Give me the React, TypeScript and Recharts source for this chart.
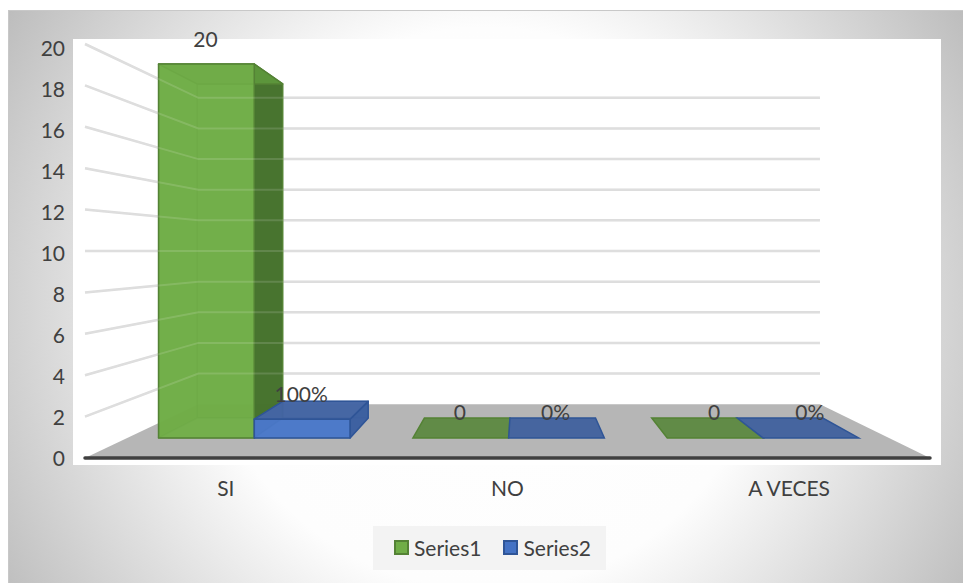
import { BarChart, Bar, XAxis, YAxis, CartesianGrid, Legend, LabelList, ReferenceLine } from "recharts";

const categories = ["SI", "NO", "A VECES"];
const series1 = [20, 0, 0];
const series2 = [1, 0, 0]; // shown as percentages
const yTicks = [0, 2, 4, 6, 8, 10, 12, 14, 16, 18, 20];

const data = categories.map((name, i) => ({ name, Series1: series1[i], Series2: series2[i] }));

// fake 3D: everything is plotted on the front plane, then pushed back towards a vanishing point
const VX = 521;
const VY = 251;
const BAR_FRONT = 0.097;
const BAR_BACK = 0.193;
const WALL = 0.26;
const FONT = "Lato, sans-serif";
const TEXT = "#404040";

const project = (x: number, y: number, k: number) => [x + k * (VX - x), y + k * (VY - y)];
const pts = (list: number[][]) => list.map((p) => p.join(",")).join(" ");

const GREEN = {
  stroke: "#548235",
  front: "#70ad47",
  side: "#44702c",
  top: "#5f9a3c",
  bottom: "#8dbd6e",
  flat: "#618b47",
};
const BLUE = {
  stroke: "#2f5597",
  front: "#4a78c8",
  side: "#3c5f9e",
  top: "#43639f",
  bottom: "#5c88d2",
  flat: "#46659f",
};

function BarBox(props: any) {
  const { x, y, width, height, tone } = props;
  const l = x;
  const r = x + width;
  const t = y;
  const b = y + height;
  const fl = project(l, b, BAR_FRONT);
  const fr = project(r, b, BAR_FRONT);
  const ftl = project(l, t, BAR_FRONT);
  const ftr = project(r, t, BAR_FRONT);
  const bl = project(l, b, BAR_BACK);
  const br = project(r, b, BAR_BACK);
  const btl = project(l, t, BAR_BACK);
  const btr = project(r, t, BAR_BACK);

  if (height <= 0) {
    return <polygon points={pts([fl, fr, br, bl])} fill={tone.flat} stroke={tone.stroke} strokeWidth={1.5} />;
  }
  const edge = { stroke: tone.stroke, strokeWidth: 1.5, strokeLinejoin: "round" as const };
  return (
    <g>
      <polygon points={pts([bl, br, btr, btl])} fill={tone.front} fillOpacity={0.85} {...edge} strokeOpacity={0.35} />
      <polygon points={pts([fl, bl, btl, ftl])} fill={tone.front} fillOpacity={0.85} {...edge} strokeOpacity={0.35} />
      <polygon points={pts([fl, fr, br, bl])} fill={tone.bottom} fillOpacity={0.9} {...edge} strokeOpacity={0.35} />
      <polygon points={pts([fr, br, btr, ftr])} fill={tone.side} fillOpacity={0.95} {...edge} />
      <polygon points={pts([ftl, ftr, btr, btl])} fill={tone.top} fillOpacity={0.88} {...edge} />
      <polygon points={pts([fl, fr, ftr, ftl])} fill={tone.front} fillOpacity={0.88} {...edge} />
    </g>
  );
}

function GridLine(props: any) {
  const { x1, x2, y1 } = props;
  const isFloor = y1 >= 457;
  const bl = project(x1, y1, WALL);
  const br = project(x2 - 5, y1, WALL);
  if (isFloor) {
    return (
      <g>
        <polygon points={pts([[x1, y1], [x2, y1], br, bl])} fill="#b6b6b6" />
        <line x1={x1} y1={y1} x2={x2} y2={y1} stroke="#404040" strokeWidth={3.5} strokeLinecap="round" />
      </g>
    );
  }
  return <polyline points={pts([[x1, y1], bl, br])} fill="none" stroke="#d9d9d9" strokeWidth={2.5} />;
}

// the same lines again, very faint, on top of the bars: the bars look like glass
function GridGlow(props: any) {
  const { x1, x2, y1 } = props;
  const bl = project(x1, y1, WALL);
  const br = project(x2 - 5, y1, WALL);
  return <polyline points={pts([[x1, y1], bl, br])} fill="none" stroke="#ffffff" strokeOpacity={0.14} strokeWidth={2} />;
}

function YTick(props: any) {
  const { y, payload } = props;
  // labels sit on a slightly tighter scale than the gridline ends
  const labelY = y + (458 - y) * 0.0097 - 1;
  return (
    <text x={65} y={labelY} textAnchor="end" dominantBaseline="central" fontFamily={FONT} fontSize={21} fill={TEXT}>
      {payload.value}
    </text>
  );
}

const barLabel = (percent: boolean) => (props: any) => {
  const { x, y, width, value } = props;
  const [cx, cy] = project(x + width / 2, y, BAR_FRONT);
  return (
    <text x={cx - 1} y={cy - 26} textAnchor="middle" dominantBaseline="central" fontFamily={FONT} fontSize={21} fill={TEXT}>
      {percent ? `${value * 100}%` : value}
    </text>
  );
};

function LegendBox(props: any) {
  const colors: Record<string, string[]> = {
    Series1: [GREEN.front, GREEN.stroke],
    Series2: ["#4472c4", BLUE.stroke],
  };
  return (
    <div
      style={{
        width: 233,
        height: 44,
        background: "rgba(242,242,242,0.9)",
        display: "flex",
        alignItems: "center",
        paddingLeft: 21,
        paddingBottom: 2,
        boxSizing: "border-box",
        gap: 22,
        fontFamily: FONT,
        fontSize: 21,
        color: TEXT,
      }}
    >
      {(props.payload || []).map((item: any) => (
        <span key={item.value} style={{ display: "flex", alignItems: "center", gap: 5 }}>
          <span
            style={{
              width: 15,
              height: 15,
              boxSizing: "border-box",
              background: colors[item.value][0],
              border: `2px solid ${colors[item.value][1]}`,
            }}
          />
          {item.value}
        </span>
      ))}
    </div>
  );
}

export default function App() {
  return (
    <div style={{ position: "absolute", left: 0, top: 0, width: 963, height: 583, overflow: "hidden", background: "#fff" }}>
      <div
        style={{
          position: "absolute",
          left: 8,
          top: 10,
          width: 955,
          height: 573,
          boxSizing: "border-box",
          borderTop: "1px solid #c8c8c8",
          borderLeft: "1px solid #c8c8c8",
          background: "radial-gradient(circle at 50% 52%, #ffffff 0%, #fdfdfd 50%, #bdbdbd 100%)",
        }}
      />
      <div style={{ position: "absolute", left: 73, top: 39, width: 868, height: 426, background: "#fff" }} />
      <div style={{ position: "absolute", left: 0, top: 0 }}>
        <BarChart
          width={963}
          height={583}
          data={data}
          margin={{ top: 44, right: 33, bottom: 85, left: 40 }}
          barCategoryGap="12.3%"
          barGap={0}
        >
          <CartesianGrid vertical={false} horizontal={(p: any) => <GridLine key={p.key} {...p} />} />
          <XAxis
            dataKey="name"
            height={40}
            axisLine={false}
            tickLine={false}
            tickMargin={17}
            tick={{ fontFamily: FONT, fontSize: 21, fill: TEXT }}
          />
          <YAxis width={45} domain={[0, 20]} ticks={yTicks} interval={0} axisLine={false} tickLine={false} tick={<YTick />} />
          <Legend
            verticalAlign="middle"
            align="center"
            content={<LegendBox />}
            wrapperStyle={{ left: 373, top: 526, width: 233, height: 44 }}
          />
          <Bar dataKey="Series1" isAnimationActive={false} fill={GREEN.front} shape={(p: any) => <BarBox {...p} tone={GREEN} />}>
            <LabelList dataKey="Series1" content={barLabel(false)} />
          </Bar>
          <Bar dataKey="Series2" isAnimationActive={false} fill={BLUE.front} shape={(p: any) => <BarBox {...p} tone={BLUE} />}>
            <LabelList dataKey="Series2" content={barLabel(true)} />
          </Bar>
          {yTicks.slice(1).map((t) => (
            <ReferenceLine key={t} y={t} shape={(p: any) => <GridGlow {...p} />} />
          ))}
        </BarChart>
      </div>
    </div>
  );
}
